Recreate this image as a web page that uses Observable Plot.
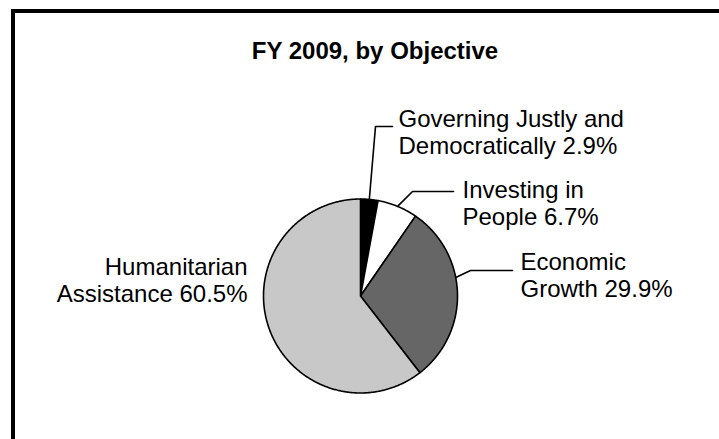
<!DOCTYPE html>
<html><head><meta charset="utf-8">
<script src="https://cdn.jsdelivr.net/npm/d3@7"></script>
<script src="https://cdn.jsdelivr.net/npm/@observablehq/plot@0.6"></script>
<style>
html,body{margin:0;padding:0;background:#fff;width:719px;height:439px;overflow:hidden;}
#wrap{position:relative;width:719px;height:439px;}
#box{position:absolute;left:11px;top:9px;width:800px;height:600px;border-left:4px solid #000;border-top:4px solid #000;box-sizing:border-box;}
#chart{position:absolute;left:0;top:0;}
</style></head><body>
<div id="wrap"><div id="box"></div><div id="chart"></div></div>
<script>
// ---- data ----
const titleText = "FY 2009, by Objective";
const categories = ["Governing Justly and Democratically", "Investing in People", "Economic Growth", "Humanitarian Assistance"];
const labelLine1 = ["Governing Justly and", "Investing in", "Economic", "Humanitarian"];
const labelLine2 = ["Democratically", "People", "Growth", "Assistance"];
const shares = [2.9, 6.7, 29.9, 60.5];
const sliceColors = ["#000000", "#ffffff", "#666666", "#c8c8c8"];

// ---- layout ----
const W = 719, H = 439;
const CX = 360, CY = 295.5, R = 97;
const labelLayout = [
  {x: 398, y: 108, anchor: "start", elbow: [375, 126], end: [392, 126], angle: null},
  {x: 462, y: 179, anchor: "start", elbow: [412, 191], end: [453, 191], angle: null},
  {x: 520, y: 251, anchor: "start", elbow: [470, 270], end: [512, 270], angle: 79},
  {x: 247, y: 256, anchor: "end", elbow: null, end: null, angle: null}
];

const pie = d3.pie().sort(null).value(d => d)(shares);
const pt = (a, r) => ({x: CX + r * Math.sin(a), y: CY - r * Math.cos(a)});

const sliceMarks = pie.map((p, i) => {
  const pts = [{x: CX, y: CY}];
  const n = Math.max(4, Math.ceil((p.endAngle - p.startAngle) / (Math.PI / 360)));
  for (let k = 0; k <= n; k++) {
    const a = p.startAngle + (p.endAngle - p.startAngle) * k / n;
    pts.push(pt(a, R));
  }
  return Plot.line(pts, {x: "x", y: "y", curve: "linear-closed", fill: sliceColors[i], stroke: "#000", strokeWidth: 1.6, strokeLinejoin: "round"});
});

const leaders = [];
pie.forEach((p, i) => {
  const L = labelLayout[i];
  if (!L.elbow) return;
  const a = L.angle != null ? L.angle * Math.PI / 180 : (p.startAngle + p.endAngle) / 2;
  const s = pt(a, R);
  leaders.push({id: i, x: s.x, y: s.y});
  leaders.push({id: i, x: L.elbow[0], y: L.elbow[1]});
  leaders.push({id: i, x: L.end[0], y: L.end[1]});
});

const labels = categories.map((c, i) => ({
  text: labelLine1[i] + "\n" + labelLine2[i] + " " + shares[i].toFixed(1) + "%",
  x: labelLayout[i].x, y: labelLayout[i].y, anchor: labelLayout[i].anchor
}));

const chart = Plot.plot({
  width: W, height: H,
  margin: 0,
  x: {type: "linear", domain: [0, W], range: [0, W], axis: null},
  y: {type: "linear", domain: [0, H], range: [0, H], axis: null},
  style: {fontFamily: "'Liberation Sans', Arial, sans-serif", background: "transparent", overflow: "visible"},
  marks: [
    ...sliceMarks,
    Plot.line(leaders, {x: "x", y: "y", z: "id", stroke: "#000", strokeWidth: 1.6}),
    Plot.text(labels.filter(d => d.anchor === "start"), {x: "x", y: "y", text: "text", textAnchor: "start", lineAnchor: "top", lineHeight: 1.1, fontSize: 24, fill: "#000"}),
    Plot.text(labels.filter(d => d.anchor === "end"), {x: "x", y: "y", text: "text", textAnchor: "end", lineAnchor: "top", lineHeight: 1.1, fontSize: 24, fill: "#000"}),
    Plot.text([{t: titleText, x: 374.5, y: 41}], {x: "x", y: "y", text: "t", textAnchor: "middle", lineAnchor: "top", fontSize: 24, fontWeight: "bold", fill: "#000"})
  ]
});
document.getElementById("chart").appendChild(chart);
</script>
</body></html>
